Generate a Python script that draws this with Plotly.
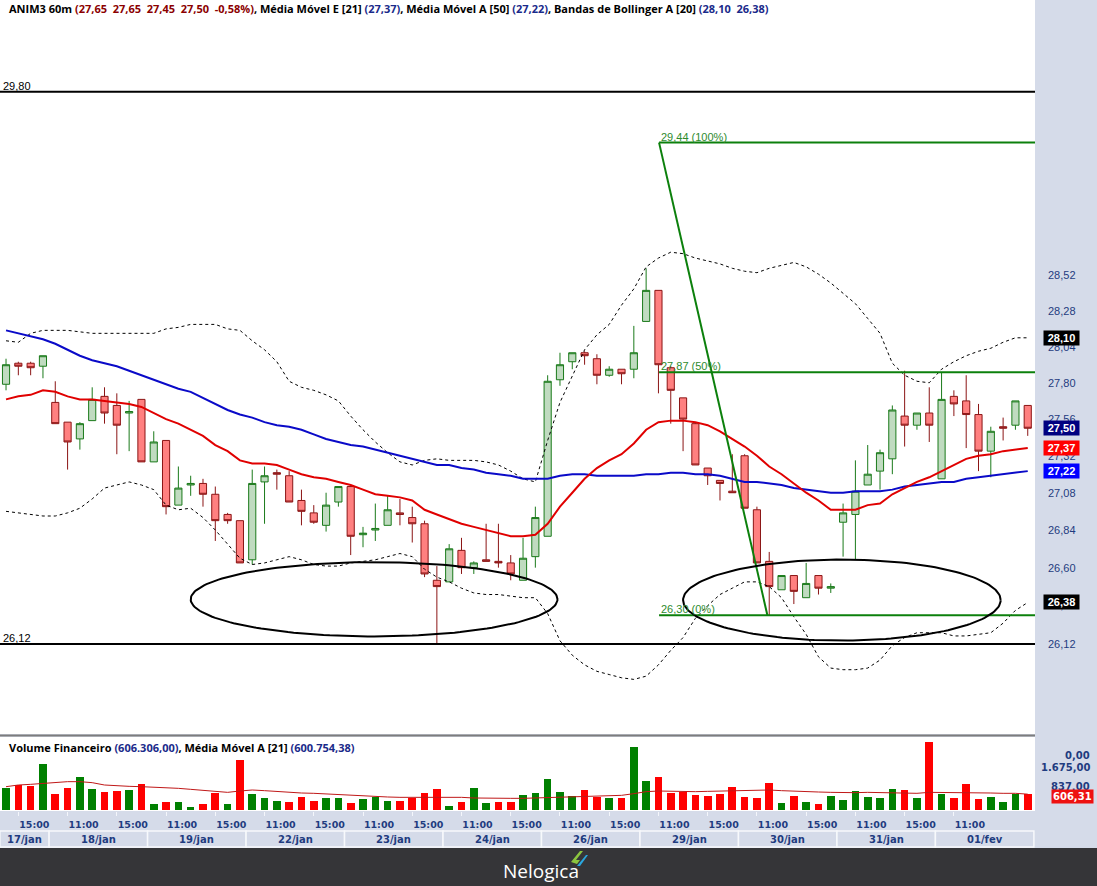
import math
import plotly.graph_objects as go

# ---------------- data ----------------
days = ["17/jan", "18/jan", "19/jan", "22/jan", "23/jan", "24/jan",
        "26/jan", "29/jan", "30/jan", "31/jan", "01/fev"]
first_day_hours = [14, 15, 16, 17]
day_hours = [10, 11, 12, 13, 14, 15, 16, 17]

opens = [27.79, 27.93, 27.93, 27.91, 27.67, 27.54, 27.43, 27.55, 27.71, 27.65,
         27.60, 27.69, 27.28, 27.42, 27.00, 27.13, 27.14, 27.07, 26.94, 26.90,
         26.65, 27.15, 27.21, 27.19, 27.03, 26.95, 26.87, 27.02, 27.12, 26.81,
         26.84, 26.87, 26.95, 26.92, 26.88, 26.52, 26.51, 26.71, 26.60, 26.65,
         26.64, 26.63, 26.52, 26.67, 26.80, 27.82, 27.94, 28.00, 27.96, 27.85,
         27.89, 27.89, 28.21, 28.42, 27.90, 27.70, 27.53, 27.24, 27.16, 27.09,
         27.32, 26.97, 26.64, 26.46, 26.55, 26.41, 26.55, 26.47, 26.89, 26.94,
         27.13, 27.22, 27.30, 27.58, 27.52, 27.60, 27.17, 27.71, 27.68, 27.59,
         27.35, 27.51, 27.52, 27.65]
highs = [27.96, 27.94, 27.94, 27.98, 27.81, 27.54, 27.54, 27.77, 27.77, 27.73,
         27.68, 27.69, 27.48, 27.42, 27.25, 27.19, 27.17, 27.12, 26.95, 26.90,
         27.23, 27.25, 27.23, 27.22, 27.10, 27.00, 27.08, 27.12, 27.12, 26.86,
         27.01, 27.06, 27.04, 26.99, 26.90, 26.61, 26.75, 26.79, 26.64, 26.88,
         26.88, 26.68, 26.79, 26.99, 27.85, 28.00, 28.00, 28.01, 27.99, 27.91,
         27.89, 28.18, 28.57, 28.42, 27.91, 27.70, 27.54, 27.24, 27.16, 27.33,
         27.33, 26.99, 26.70, 26.55, 26.55, 26.63, 26.55, 26.50, 27.01, 27.29,
         27.39, 27.36, 27.65, 27.88, 27.60, 27.77, 27.87, 27.75, 27.85, 27.66,
         27.51, 27.57, 27.68, 27.65]
lows = [27.75, 27.85, 27.85, 27.83, 27.53, 27.23, 27.36, 27.55, 27.53, 27.33,
        27.35, 27.28, 27.28, 26.94, 27.00, 27.06, 26.99, 26.77, 26.88, 26.63,
        26.62, 26.88, 27.10, 27.02, 26.87, 26.88, 26.83, 26.99, 26.68, 26.73,
        26.77, 26.87, 26.87, 26.76, 26.54, 26.12, 26.51, 26.56, 26.56, 26.64,
        26.60, 26.52, 26.52, 26.60, 26.80, 27.78, 27.89, 27.92, 27.79, 27.84,
        27.79, 27.83, 28.21, 27.73, 27.53, 27.35, 27.26, 27.13, 27.03, 27.08,
        26.98, 26.63, 26.30, 26.46, 26.37, 26.41, 26.43, 26.44, 26.67, 26.65,
        27.13, 27.10, 27.20, 27.38, 27.49, 27.41, 27.17, 27.58, 27.37, 27.22,
        27.18, 27.42, 27.49, 27.45]
closes = [27.92, 27.91, 27.90, 27.98, 27.53, 27.41, 27.53, 27.69, 27.60, 27.52,
          27.61, 27.28, 27.41, 26.99, 27.11, 27.14, 27.07, 26.90, 26.90, 26.63,
          27.14, 27.19, 27.20, 27.02, 26.96, 26.89, 27.00, 27.12, 26.80, 26.82,
          26.85, 26.97, 26.94, 26.88, 26.56, 26.48, 26.72, 26.60, 26.63, 26.64,
          26.63, 26.56, 26.66, 26.92, 27.81, 27.92, 28.00, 27.98, 27.85, 27.89,
          27.86, 28.00, 28.42, 27.92, 27.75, 27.56, 27.26, 27.19, 27.14, 27.08,
          26.98, 26.63, 26.48, 26.55, 26.45, 26.50, 26.47, 26.48, 26.95, 27.09,
          27.20, 27.34, 27.62, 27.52, 27.60, 27.52, 27.69, 27.66, 27.59, 27.35,
          27.48, 27.50, 27.68, 27.50]

ema21 = [27.69, 27.71, 27.72, 27.75, 27.74, 27.71, 27.69, 27.69, 27.68, 27.67,
         27.66, 27.64, 27.60, 27.56, 27.53, 27.49, 27.45, 27.39, 27.35, 27.29,
         27.27, 27.27, 27.26, 27.23, 27.20, 27.18, 27.17, 27.15, 27.13, 27.10,
         27.07, 27.06, 27.05, 27.03, 26.97, 26.94, 26.91, 26.88, 26.86, 26.84,
         26.82, 26.80, 26.80, 26.81, 26.88, 26.99, 27.08, 27.17, 27.24, 27.29,
         27.33, 27.40, 27.49, 27.54, 27.55, 27.55, 27.54, 27.52, 27.48, 27.43,
         27.38, 27.32, 27.25, 27.20, 27.14, 27.08, 27.03, 26.97, 26.97, 26.97,
         27.00, 27.01, 27.07, 27.11, 27.15, 27.18, 27.22, 27.26, 27.30, 27.32,
         27.33, 27.35, 27.36, 27.37]
sma50 = [28.15, 28.13, 28.11, 28.09, 28.06, 28.02, 27.98, 27.95, 27.93, 27.91,
         27.88, 27.85, 27.82, 27.79, 27.76, 27.74, 27.70, 27.66, 27.62, 27.59,
         27.57, 27.54, 27.52, 27.51, 27.49, 27.46, 27.43, 27.41, 27.39, 27.38,
         27.36, 27.34, 27.32, 27.30, 27.28, 27.26, 27.26, 27.24, 27.23, 27.21,
         27.20, 27.19, 27.17, 27.17, 27.17, 27.19, 27.20, 27.20, 27.19, 27.19,
         27.19, 27.19, 27.20, 27.20, 27.21, 27.21, 27.20, 27.20, 27.19, 27.17,
         27.15, 27.15, 27.14, 27.13, 27.11, 27.10, 27.09, 27.08, 27.08, 27.09,
         27.09, 27.09, 27.10, 27.12, 27.13, 27.14, 27.15, 27.15, 27.17, 27.18,
         27.19, 27.20, 27.21, 27.22]
bb_upper = [28.08, 28.07, 28.13, 28.15, 28.15, 28.15, 28.14, 28.13, 28.13, 28.13,
            28.13, 28.13, 28.13, 28.16, 28.17, 28.19, 28.19, 28.19, 28.16, 28.15,
            28.08, 28.02, 27.94, 27.81, 27.77, 27.75, 27.72, 27.68, 27.58, 27.49,
            27.41, 27.34, 27.28, 27.26, 27.29, 27.30, 27.29, 27.29, 27.29, 27.28,
            27.26, 27.22, 27.17, 27.15, 27.42, 27.67, 27.85, 28.02, 28.12, 28.19,
            28.32, 28.43, 28.58, 28.64, 28.68, 28.67, 28.64, 28.62, 28.60, 28.57,
            28.55, 28.54, 28.57, 28.59, 28.61, 28.58, 28.53, 28.47, 28.40, 28.33,
            28.23, 28.13, 27.93, 27.85, 27.81, 27.80, 27.89, 27.94, 27.98, 28.01,
            28.03, 28.07, 28.10, 28.10]
bb_lower = [26.96, 26.95, 26.94, 26.93, 26.93, 26.95, 26.98, 27.04, 27.11, 27.13,
            27.15, 27.13, 27.10, 27.00, 26.97, 26.98, 26.92, 26.84, 26.75, 26.66,
            26.62, 26.63, 26.65, 26.67, 26.65, 26.62, 26.61, 26.61, 26.63, 26.64,
            26.65, 26.67, 26.69, 26.67, 26.59, 26.54, 26.51, 26.47, 26.44, 26.43,
            26.43, 26.42, 26.41, 26.41, 26.31, 26.14, 26.05, 25.99, 25.95, 25.93,
            25.91, 25.90, 25.92, 25.99, 26.08, 26.16, 26.28, 26.36, 26.43, 26.47,
            26.51, 26.51, 26.48, 26.41, 26.29, 26.18, 26.04, 25.97, 25.96, 25.96,
            25.97, 26.02, 26.11, 26.16, 26.19, 26.19, 26.19, 26.17, 26.17, 26.18,
            26.19, 26.25, 26.33, 26.38]

volume_k = [846, 947, 922, 1743, 606, 846, 1250, 796, 682, 720,
            758, 985, 227, 303, 303, 114, 227, 644, 227, 1894,
            606, 455, 341, 303, 493, 341, 455, 455, 265, 417,
            493, 341, 341, 455, 644, 796, 152, 303, 834, 265,
            303, 303, 568, 644, 1175, 682, 530, 758, 493, 455,
            455, 2387, 1099, 1250, 644, 682, 568, 530, 606, 871,
            493, 455, 1023, 265, 530, 303, 227, 530, 379, 720,
            493, 455, 796, 758, 455, 2577, 606, 455, 985, 417,
            493, 303, 606, 606.306]
volume_ma21_k = [884, 947, 973, 1010, 1048, 1074, 1074, 1036, 947, 909,
                 897, 884, 871, 846, 821, 783, 745, 707, 669, 720,
                 758, 733, 695, 669, 644, 632, 606, 581, 556, 530,
                 505, 493, 480, 480, 480, 493, 505, 480, 455, 442,
                 442, 442, 442, 455, 467, 480, 493, 505, 518, 530,
                 556, 619, 695, 720, 707, 695, 695, 707, 720, 733,
                 733, 745, 758, 733, 707, 695, 682, 669, 657, 657,
                 669, 657, 644, 632, 632, 669, 669, 657, 657, 644,
                 644, 632, 632, 600.75438]

price_ticks = [26.12, 26.36, 26.60, 26.84, 27.08, 27.32, 27.56, 27.80, 28.04, 28.28, 28.52]
ref_levels = [29.80, 26.12]
fib_high, fib_low = 29.44, 26.30
fib_start_idx, fib_end_idx = 53.05, 61.85
fib_pcts = [100, 50, 0]
# (centre candle index, centre price, half-width in candles, half-height in log10 units)
ellipses = [(29.9, 26.40, 14.9, 0.00385), (67.9, 26.395, 12.9, 0.0042)]
last_change_pct = -0.58
value_tags = [(28.10, "#000000"), (27.50, "#000080"), (27.37, "#ff0000"),
              (27.22, "#0000ff"), (26.38, "#000000")]
vol_axis_labels = ["0,00", "1.675,00", "837,00"]

# ---------------- helpers ----------------
W, H = 1097, 886
PLOT_R = 1035
MAIN_BOT = 734
VOL_TOP, VOL_BOT = 737, 811
DATE_TOP, DATE_BOT = 830, 848
X_MIN, X_MAX = -0.49, 83.59
Y_LOG_RANGE = [1.40764, 1.48372]
VOL_RANGE = [-38, 2767]


def fx(px):
    return px / W


def fy(px):
    return 1 - px / H


def br(v, nd=2):
    return f"{v:.{nd}f}".replace(".", ",")


def br_thousands(v):
    s = f"{v:,.2f}"
    return s.replace(",", "X").replace(".", ",").replace("X", ".")


candle_day, candle_hour = [], []
for d_i, d in enumerate(days):
    for h in (first_day_hours if d_i == 0 else day_hours):
        candle_day.append(d)
        candle_hour.append(h)
N = len(candle_day)
xs = list(range(N))

NAVY = "#1f3c80"
GREEN_FILL, GREEN_LINE = "#c0dbc0", "#1a7a1a"
RED_FILL, RED_LINE = "#ff8080", "#8b1515"
FIB_GREEN = "#0c800c"
PANEL_BG = "#d5dbe9"

fig = go.Figure()

# Bollinger bands
for band in (bb_upper, bb_lower):
    fig.add_trace(go.Scatter(x=xs, y=band, mode="lines",
                             line=dict(color="black", width=1, dash="3px,3px"),
                             hoverinfo="skip", showlegend=False))

# candles
fig.add_trace(go.Candlestick(
    x=xs, open=opens, high=highs, low=lows, close=closes,
    increasing=dict(fillcolor=GREEN_FILL, line=dict(color=GREEN_LINE, width=1)),
    decreasing=dict(fillcolor=RED_FILL, line=dict(color=RED_LINE, width=1)),
    whiskerwidth=0, hoverinfo="skip", showlegend=False))

fig.add_trace(go.Scatter(x=xs, y=sma50, mode="lines",
                         line=dict(color="#0a0ac8", width=2),
                         hoverinfo="skip", showlegend=False))
fig.add_trace(go.Scatter(x=xs, y=ema21, mode="lines",
                         line=dict(color="#e00000", width=2),
                         hoverinfo="skip", showlegend=False))

# Fibonacci
fig.add_trace(go.Scatter(x=[fib_start_idx, fib_end_idx], y=[fib_high, fib_low], mode="lines",
                         line=dict(color=FIB_GREEN, width=2), hoverinfo="skip", showlegend=False))
fib_levels = []
for p in fib_pcts:
    lvl = fib_low + (fib_high - fib_low) * p / 100
    fib_levels.append((p, lvl))
    fig.add_trace(go.Scatter(x=[fib_start_idx, X_MAX], y=[lvl, lvl], mode="lines",
                             line=dict(color=FIB_GREEN, width=2),
                             hoverinfo="skip", showlegend=False))

# ellipses
for cx, cp, rx, rl in ellipses:
    ex, ey = [], []
    for k in range(181):
        t = 2 * math.pi * k / 180
        ex.append(cx + rx * math.cos(t))
        ey.append(10 ** (math.log10(cp) + rl * math.sin(t)))
    fig.add_trace(go.Scatter(x=ex, y=ey, mode="lines", line=dict(color="black", width=2),
                             hoverinfo="skip", showlegend=False))

# reference lines
for lvl in ref_levels:
    fig.add_trace(go.Scatter(x=[X_MIN, X_MAX], y=[lvl, lvl], mode="lines",
                             line=dict(color="black", width=2),
                             hoverinfo="skip", showlegend=False))

# volume
vol_colors = []
for i in xs:
    up = True if i == 0 else closes[i] >= closes[i - 1]
    vol_colors.append("#008000" if up else "#ff0000")
fig.add_trace(go.Bar(x=xs, y=volume_k, marker=dict(color=vol_colors, line=dict(width=0)),
                     width=0.62, xaxis="x2", yaxis="y2", hoverinfo="skip", showlegend=False))
fig.add_trace(go.Scatter(x=xs, y=volume_ma21_k, mode="lines", line=dict(color="#c01818", width=1),
                         xaxis="x2", yaxis="y2", hoverinfo="skip", showlegend=False))

# ---------------- annotations ----------------
ann = []
TITLE_FONT = dict(family="Open Sans", size=11, color="black", weight="bold")
o, h, l, c = opens[-1], highs[-1], lows[-1], closes[-1]
NB = "\u00a0\u00a0"
title = (f"ANIM3 60m <span style='color:#8b0000'>({br(o)}{NB}{br(h)}{NB}{br(l)}{NB}{br(c)}{NB}{br(last_change_pct)}%)</span>, "
         f"Média Móvel E [21] <span style='color:#1a2a8a'>({br(ema21[-1])})</span>, "
         f"Média Móvel A [50] <span style='color:#1a2a8a'>({br(sma50[-1])})</span>, "
         f"Bandas de Bollinger A [20] <span style='color:#1a2a8a'>({br(bb_upper[-1])}{NB}{br(bb_lower[-1])})</span>")
ann.append(dict(text=title, xref="paper", yref="paper", x=fx(7), y=fy(9),
                xanchor="left", yanchor="middle", showarrow=False, font=TITLE_FONT))
vtitle = (f"Volume Financeiro <span style='color:#1a2a8a'>({br_thousands(volume_k[-1] * 1000)})</span>, "
          f"Média Móvel A [21] <span style='color:#1a2a8a'>({br_thousands(volume_ma21_k[-1] * 1000)})</span>")
ann.append(dict(text=vtitle, xref="paper", yref="paper", x=fx(7), y=fy(747),
                xanchor="left", yanchor="middle", showarrow=False, font=TITLE_FONT))

for lvl in ref_levels:
    ann.append(dict(text=br(lvl), xref="x", yref="y", x=X_MIN, y=math.log10(lvl),
                    xanchor="left", yanchor="bottom", xshift=1, yshift=-2, showarrow=False,
                    font=dict(family="Liberation Sans", size=11, color="black")))

for p, lvl in fib_levels:
    ann.append(dict(text=f"{br(lvl)} ({p}%)", xref="x", yref="y", x=fib_start_idx,
                    y=math.log10(lvl), xanchor="left", yanchor="bottom", yshift=-2,
                    showarrow=False, font=dict(family="Liberation Sans", size=11, color="#2e8b2e")))

for v, bg in value_tags:
    ann.append(dict(text=f"<b>{br(v)}</b>", xref="paper", yref="y", x=fx(1043), y=math.log10(v),
                    xanchor="left", yanchor="middle", showarrow=False, bgcolor=bg,
                    width=33, height=12, borderpad=1, align="center",
                    font=dict(family="Liberation Sans", size=11, color="white")))

for lab, ypx in zip(vol_axis_labels, [755, 767, 786]):
    ann.append(dict(text=f"<b>{lab}</b>", xref="paper", yref="paper", x=fx(1092), y=fy(ypx),
                    xanchor="right", yanchor="middle", showarrow=False,
                    font=dict(family="DejaVu Sans", size=10, color=NAVY)))
ann.append(dict(text=f"<b>{br(volume_k[-1])}</b>",
                xref="paper", yref="paper", x=fx(1094), y=fy(796), xanchor="right", yanchor="middle",
                showarrow=False, bgcolor="#ee1111", borderpad=1,
                font=dict(family="DejaVu Sans", size=10, color="white")))

# date boxes
shapes = []
for d in days:
    idx = [i for i in xs if candle_day[i] == d]
    x0, x1 = idx[0] - 0.5, idx[-1] + 0.5
    shapes.append(dict(type="rect", xref="x", yref="paper", x0=x0, x1=x1,
                       y0=fy(DATE_BOT - 1), y1=fy(DATE_TOP + 1), fillcolor=PANEL_BG,
                       line=dict(color="#f7f9fc", width=1.5), layer="below"))
    ann.append(dict(text=f"<b>{d}</b>", xref="x", yref="paper", x=(x0 + x1) / 2, y=fy(839),
                    xanchor="center", yanchor="middle", showarrow=False,
                    font=dict(family="DejaVu Sans", size=10, color=NAVY)))

# panel separator
shapes.append(dict(type="line", xref="paper", yref="paper", x0=0, x1=fx(PLOT_R),
                   y0=fy(735.5), y1=fy(735.5), line=dict(color="#7d7d7d", width=2)))
# footer
shapes.append(dict(type="rect", xref="paper", yref="paper", x0=0, x1=1, y0=0, y1=fy(848),
                   fillcolor="#353538", line=dict(width=0), layer="above"))
shapes.append(dict(type="path", xref="paper", yref="paper",
                   path=f"M {fx(571)},{fy(862)} L {fx(580)},{fy(851)} L {fx(583)},{fy(851)} "
                        f"L {fx(576)},{fy(860)} L {fx(580)},{fy(860)} L {fx(577)},{fy(864)} Z",
                   fillcolor="#8cc63f", line=dict(width=0), layer="above"))
shapes.append(dict(type="path", xref="paper", yref="paper",
                   path=f"M {fx(577)},{fy(866)} L {fx(586)},{fy(855)} L {fx(588)},{fy(855)} "
                        f"L {fx(580)},{fy(866)} Z",
                   fillcolor="#2aa7df", line=dict(width=0), layer="above"))
ann.append(dict(text="Nelogica", xref="paper", yref="paper", x=fx(541), y=fy(871),
                xanchor="center", yanchor="middle", showarrow=False,
                font=dict(family="Open Sans", size=19, color="white")))

# time ticks (11:00 / 15:00); the last one would not fit at the right edge
tick_idx = [i for i in xs if candle_hour[i] in (11, 15) and i + 4 < N]
tick_txt = [f"{candle_hour[i]}:00" for i in tick_idx]

fig.update_layout(
    width=W, height=H,
    margin=dict(l=0, r=0, t=0, b=0),
    paper_bgcolor=PANEL_BG, plot_bgcolor="white",
    showlegend=False, bargap=0,
    boxgap=0.42, boxgroupgap=0,
    xaxis=dict(domain=[0, fx(PLOT_R)], range=[X_MIN, X_MAX], anchor="y",
               showticklabels=False, showgrid=False, zeroline=False, showline=False,
               ticks="", rangeslider=dict(visible=False)),
    yaxis=dict(domain=[fy(MAIN_BOT), 1], type="log", range=Y_LOG_RANGE, anchor="x", side="right",
               tickmode="array", tickvals=price_ticks, ticktext=[br(v) for v in price_ticks],
               tickfont=dict(family="Liberation Sans", size=11, color=NAVY),
               ticks="", ticklabelstandoff=12, showgrid=False, zeroline=False, showline=False),
    xaxis2=dict(domain=[0, fx(PLOT_R)], matches="x", anchor="y2",
                tickmode="array", tickvals=tick_idx, ticktext=tick_txt,
                tickfont=dict(family="DejaVu Sans", size=9.5, color=NAVY, weight="bold"),
                ticks="outside", ticklen=4, tickcolor="#f4f6fb", tickwidth=1,
                ticklabelshift=16, ticklabelstandoff=1,
                showgrid=False, zeroline=False, showline=False,
                rangeslider=dict(visible=False)),
    yaxis2=dict(domain=[fy(VOL_BOT), fy(VOL_TOP)], range=VOL_RANGE, anchor="x2", side="right",
                showticklabels=False, showgrid=False, zeroline=False, showline=False, ticks=""),
    annotations=ann, shapes=shapes,
)

fig.write_html("out.html", config={"displayModeBar": False},
               post_script="document.body.style.margin='0';document.body.style.overflow='hidden';")
